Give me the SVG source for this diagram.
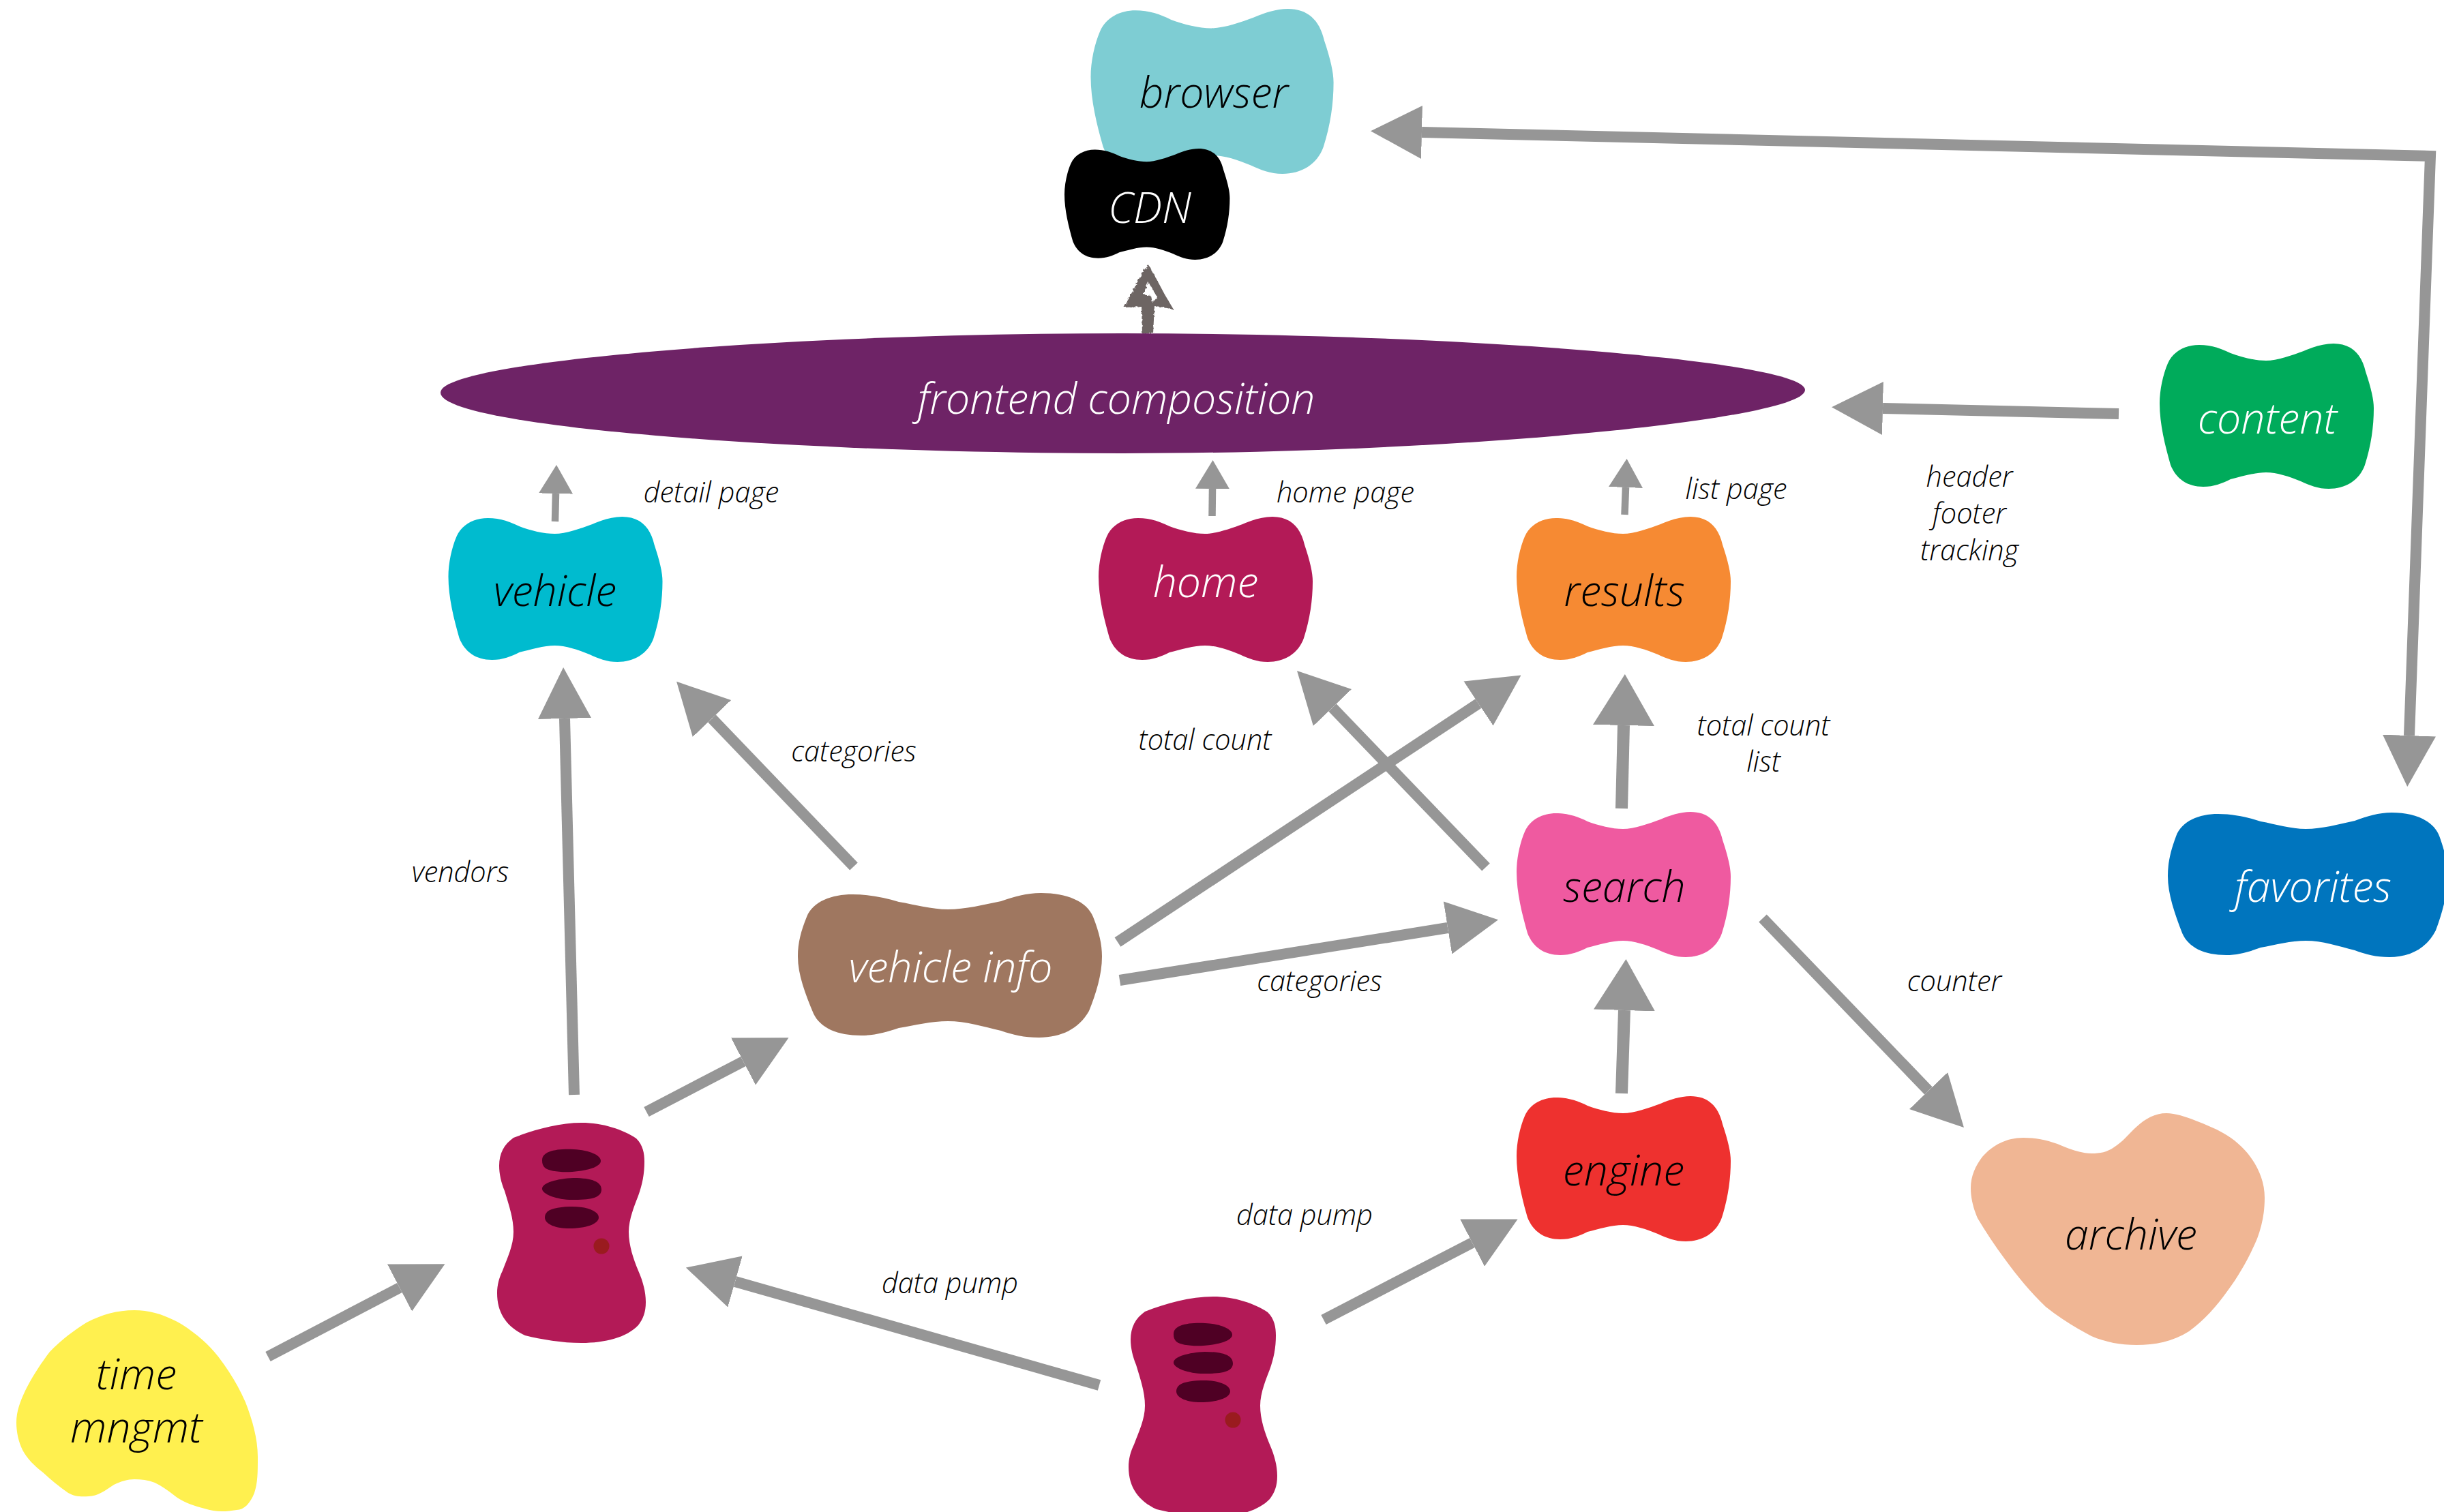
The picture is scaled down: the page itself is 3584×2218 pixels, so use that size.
<svg xmlns="http://www.w3.org/2000/svg" xmlns:xlink="http://www.w3.org/1999/xlink" width="3584" height="2218" viewBox="0 0 3584 2218">
<style>
text{font-family:"Open Sans","Noto Sans","Liberation Sans",sans-serif;font-style:italic;font-weight:300;text-anchor:middle}
.n{font-size:62.5px}
.e{font-size:41.5px;fill:#000}
.w{fill:#fff}
.k{fill:#000}
.c{fill:none;stroke:#969696;stroke-width:16;stroke-linejoin:miter}
.big{marker-end:url(#big)}
.wide{marker-end:url(#wide);stroke-width:18}
.small{marker-end:url(#small);stroke-width:10.5}
</style>
<defs>
<filter id="rough" x="-20%" y="-20%" width="140%" height="140%"><feTurbulence type="fractalNoise" baseFrequency="0.25" numOctaves="2" seed="4"/><feDisplacementMap in="SourceGraphic" scale="4"/></filter>
<marker id="big" markerUnits="userSpaceOnUse" viewBox="0 -39 75 78" refX="0" refY="0" markerWidth="75" markerHeight="78" orient="auto-start-reverse"><path d="M0 -39L75 0L0 39Z" fill="#969696"/></marker>
<marker id="wide" markerUnits="userSpaceOnUse" viewBox="0 -45 75 90" refX="0" refY="0" markerWidth="75" markerHeight="90" orient="auto"><path d="M0 -45L75 0L0 45Z" fill="#969696"/></marker>
<marker id="small" markerUnits="userSpaceOnUse" viewBox="0 -25 42 50" refX="0" refY="0" markerWidth="42" markerHeight="50" orient="auto"><path d="M0 -25L42 0L0 25Z" fill="#969696"/></marker>
<path id="blob" d="M58 2C75 2 90 7 104 14C120 20 140 25 156 25C172 25 195 17 211 11C225 5 240 0 255 0C280 0 296 14 302 41C310 65 314 82 314 95C314 122 310 150 301 178C293 201 272 213 248 213C232 213 220 208 207 202C190 195 172 189 156 189C140 189 120 195 104 199C92 205 80 210 64 210C40 210 24 198 16 178C8 150 0 118 0 88C0 68 5 45 12 29C20 11 38 2 58 2Z"/>
<path id="wideblob" d="M80 2C105 2 128 7 148 13C172 17 196 24 220 24C246 24 272 17 298 12C318 5 336 0 357 0C394 0 424 12 433 35C442 58 446 75 446 93C446 120 437 148 427 173C412 200 385 212 353 212C332 212 315 208 298 202C272 196 246 188 220 188C196 188 172 194 148 198C130 204 113 209 93 209C58 209 33 198 23 177C11 148 0 120 0 93C0 72 5 55 13 35C22 12 50 2 80 2Z"/>
<g id="server">
<path fill="#B31A57" d="M124 0C155 0 185 10 204 23C214 33 216 45 216 57C216 75 213 90 207 107C200 125 193 143 193 160C193 180 200 200 207 217C214 233 218 248 218 263C218 278 214 288 207 297C190 315 158 323 124 323C95 323 65 318 41 312C15 300 0 280 0 250C0 238 3 227 8 217C15 198 24 180 24 160C24 140 17 120 11 100C6 88 3 75 3 63C3 45 10 32 24 22C55 10 90 0 124 0Z"/>
<g fill="#4F0024" transform="translate(0 16)">
<path d="M66 39C66 44 67 47 70 50C76 55 92 57 110 56C135 54 152 48 152 40C152 32 136 24 112 23C85 22 66 26 66 39Z"/>
<path d="M66 81C66 89 90 98 114 97C140 97 153 93 153 82C153 71 140 65 112 65C88 66 66 72 66 81Z"/>
<path d="M70 123C70 134 90 140 110 139C135 138 149 131 149 123C149 113 130 106 106 107C85 108 70 111 70 123Z"/>
</g>
<circle cx="153" cy="181" r="11.5" fill="#9A1B1F"/>
</g>
</defs>

<g id="connectors">
<path class="c big" style="marker-start:url(#big)" d="M2085 194L3564 229L3533 1079"/>
<path class="c big" d="M3107 607L2761 599"/>
<path class="c small" d="M814 765L815 724"/>
<path class="c small" d="M1777.5 757L1778 717"/>
<path class="c small" d="M2382.5 755L2384 715"/>
<path class="c wide" d="M2378 1186L2381 1064"/>
<path class="c wide" d="M2378 1604L2382 1482"/>
<path class="c big" d="M2179 1272L1954 1038"/>
<path class="c big" d="M1639 1382L2168 1032"/>
<path class="c big" d="M1642 1438L2123 1361"/>
<path class="c big" d="M2585 1347L2828 1600"/>
<path class="c big" d="M842 1606L828 1054"/>
<path class="c big" d="M1252 1271L1044 1054"/>
<path class="c big" d="M948 1631L1090 1557"/>
<path class="c big" d="M393 1990L586 1889"/>
<path class="c big" d="M1612 2032L1078 1880"/>
<path class="c big" d="M1941 1936L2159 1823"/>
<path filter="url(#rough)" fill="#6D6564" fill-rule="evenodd" d="M1684.5 389L1692 402L1708 432L1721 454L1702 450L1693 449L1691 489L1675 489L1674 450L1648.5 451L1662 425L1676 398ZM1684 414L1676 432L1688 434L1690 444L1697 436Z"/>
</g>

<g id="browser"><use href="#blob" fill="#7ECDD3" transform="translate(1599.5 13) scale(1.134 1.136)"/><text class="n k" x="1780" y="158">browser</text></g>
<g id="cdn"><use href="#blob" fill="#000" transform="translate(1561 218) scale(.772 .765)"/><text class="n w" x="1686" y="327">CDN</text></g>
<g id="frontend"><path fill="#6E2366" d="M646 576C646 530 1150 489 1646 489C2150 489 2647 530 2647 572C2647 615 2150 665 1646 665C1150 665 646 625 646 576Z"/><text class="n w" x="1637" y="607">frontend composition</text></g>
<g id="vehicle"><use href="#blob" fill="#00BBCF" transform="translate(657.5 758)"/><text class="n k" x="814" y="889">vehicle</text></g>
<g id="home"><use href="#blob" fill="#B31A57" transform="translate(1611 758)"/><text class="n w" x="1768" y="876">home</text></g>
<g id="results"><use href="#blob" fill="#F68A33" transform="translate(2224 758)"/><text class="n k" x="2382" y="889">results</text></g>
<g id="content"><use href="#blob" fill="#00AB5B" transform="translate(3167 504)"/><text class="n w" x="3325" y="636">content</text></g>
<g id="search"><use href="#blob" fill="#EF5AA0" transform="translate(2224 1191)"/><text class="n k" x="2382" y="1323">search</text></g>
<g id="engine"><use href="#blob" fill="#EE312F" transform="translate(2224 1608)"/><text class="n k" x="2381" y="1739">engine</text></g>
<g id="favorites"><use href="#wideblob" fill="#0075BE" transform="translate(3179 1192) scale(.92 1)"/><text class="n w" x="3392" y="1323">favorites</text></g>
<g id="vehicle-info"><use href="#wideblob" fill="#9F7760" transform="translate(1170 1310)"/><text class="n w" x="1394" y="1441">vehicle info</text></g>
<g id="server-1"><use href="#server" transform="translate(729 1647)"/></g>
<g id="server-2"><use href="#server" transform="translate(1655 1902)"/></g>
<g id="time-mngmt"><path fill="#FFF04F" d="M197 1922C222 1922 245 1930 267 1943C290 1958 306 1972 320 1990C337 2012 350 2034 360 2057C370 2083 378 2110 378 2137C378 2160 378 2175 373 2190C367 2205 358 2215 347 2215C330 2218 315 2218 300 2213C285 2209 272 2205 260 2197C248 2188 238 2180 227 2175C217 2171 207 2170 197 2170C187 2170 177 2173 167 2178C155 2186 143 2195 130 2195C118 2196 109 2195 100 2190C86 2180 75 2171 63 2160C50 2150 40 2140 33 2127C27 2115 24 2100 24 2087C24 2070 30 2055 37 2040C47 2020 60 2000 73 1983C90 1965 108 1952 127 1940C150 1928 172 1922 197 1922Z"/><text class="n k" x="200" y="2038">time</text><text class="n k" x="200" y="2116">mngmt</text></g>
<g id="archive"><path fill="#F0B694" d="M3177 1633C3190 1633 3205 1638 3220 1644C3235 1650 3248 1655 3260 1662C3276 1671 3290 1683 3300 1697C3313 1715 3321 1735 3321 1757C3321 1780 3317 1798 3310 1817C3298 1845 3284 1870 3267 1893C3250 1917 3232 1937 3210 1953C3186 1968 3160 1973 3133 1973C3110 1973 3088 1969 3067 1960C3042 1947 3020 1933 3000 1917C2978 1896 2958 1872 2940 1847C2925 1827 2912 1807 2900 1787C2894 1773 2890 1758 2890 1743C2890 1725 2897 1710 2907 1697C2922 1680 2942 1669 2967 1669C2985 1669 3000 1672 3017 1678C3034 1685 3050 1692 3067 1692C3080 1692 3090 1690 3100 1683C3113 1675 3122 1663 3133 1653C3146 1641 3160 1633 3177 1633Z"/><text class="n k" x="3125" y="1833">archive</text></g>

<g id="labels">
<text class="e" x="1043" y="737">detail page</text>
<text class="e" x="1973" y="737">home page</text>
<text class="e" x="2546" y="732">list page</text>
<text class="e" x="2888" y="714">header</text>
<text class="e" x="2888" y="768">footer</text>
<text class="e" x="2888" y="822">tracking</text>
<text class="e" x="1767" y="1100">total count</text>
<text class="e" x="2586" y="1079">total count</text>
<text class="e" x="2586" y="1132">list</text>
<text class="e" x="1252" y="1117">categories</text>
<text class="e" x="675" y="1294">vendors</text>
<text class="e" x="1935" y="1454">categories</text>
<text class="e" x="2866" y="1454">counter</text>
<text class="e" x="1393" y="1897">data pump</text>
<text class="e" x="1913" y="1797">data pump</text>
</g>
</svg>
